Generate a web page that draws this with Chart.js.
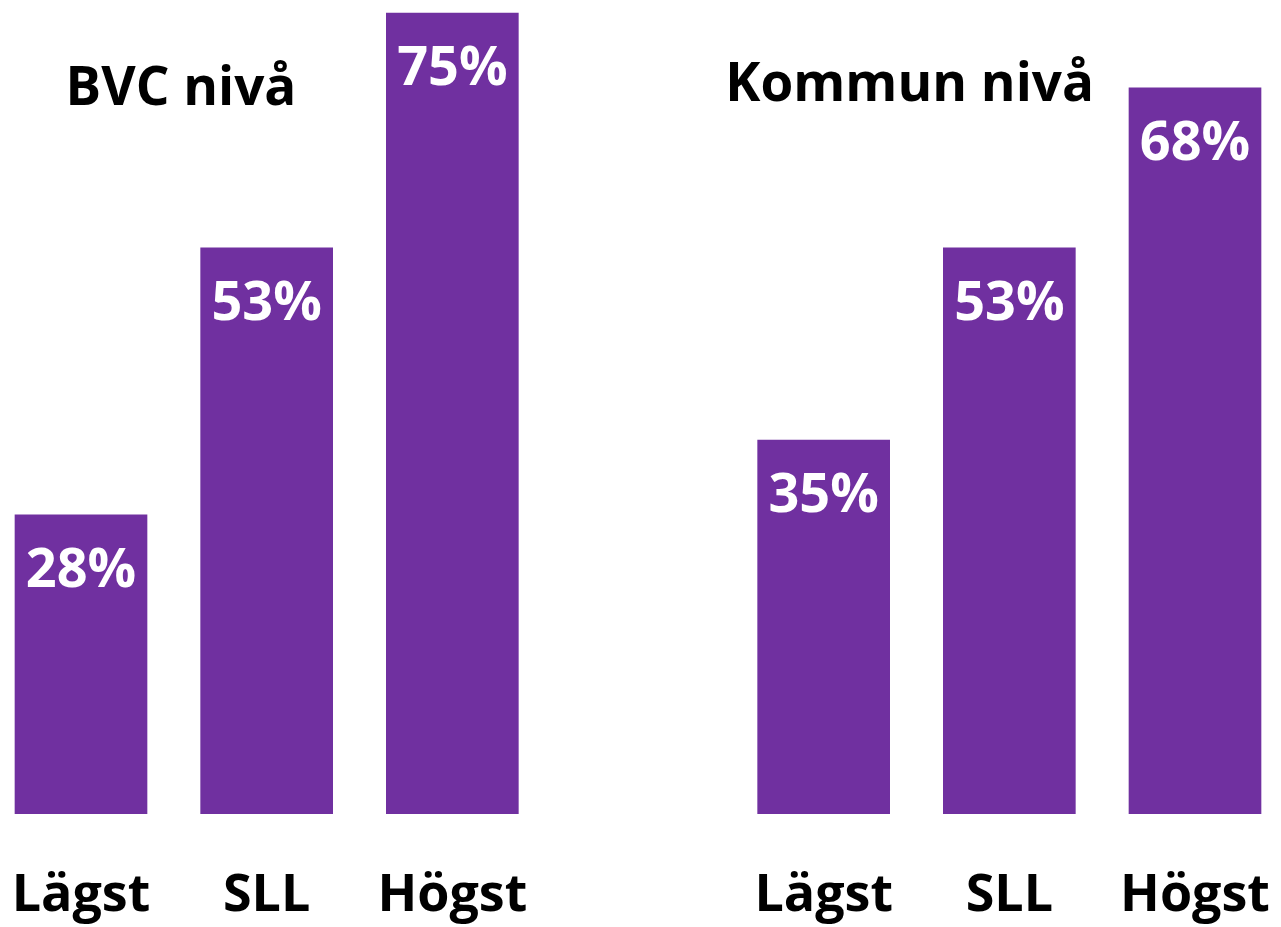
<!DOCTYPE html>
<html lang="sv">
<head>
    <meta charset="UTF-8">
    <script src="https://cdn.jsdelivr.net/npm/chart.js@4.4.1/dist/chart.umd.min.js"></script>
    <title>BVC och Kommun nivå</title>
    <style>
        body { margin: 0; background: #fff; }
    </style>
</head>
<body>
    <canvas id="chart" width="1281" height="927"></canvas>

    <script>
        // empty slot in the middle separates the two groups
        const categories = ['Lägst', 'SLL', 'Högst', '', 'Lägst', 'SLL', 'Högst'];
        const values = [28, 53, 75, null, 35, 53, 68];
        const groupTitles = ['BVC nivå', 'Kommun nivå'];

        const FONT = '"Open Sans", sans-serif';

        const labelPlugin = {
            id: 'labels',
            afterDatasetsDraw(chart) {
                const ctx = chart.ctx;
                const meta = chart.getDatasetMeta(0);
                ctx.save();
                ctx.fillStyle = '#fff';
                ctx.font = 'bold 54px ' + FONT;
                ctx.textAlign = 'center';
                ctx.textBaseline = 'middle';
                meta.data.forEach((bar, i) => {
                    if (values[i] == null) return;
                    ctx.fillText(values[i] + '%', bar.x, bar.y + 57);
                });

                // group titles
                const x = chart.scales.x;
                ctx.fillStyle = '#000';
                ctx.font = 'bold 53px ' + FONT;
                ctx.fillText(groupTitles[0], x.getPixelForValue(0) + 100, 90);
                ctx.fillText(groupTitles[1], x.getPixelForValue(4) + 86, 86);
                ctx.restore();
            }
        };

        new Chart(document.getElementById('chart'), {
            type: 'bar',
            data: {
                labels: categories,
                datasets: [{
                    data: values,
                    backgroundColor: '#7030A0',
                    barThickness: 132,
                    clip: false
                }]
            },
            options: {
                responsive: false,
                animation: false,
                layout: { padding: { left: 81, right: 86, top: 13, bottom: 0 } },
                plugins: { legend: { display: false }, tooltip: { enabled: false } },
                scales: {
                    x: {
                        offset: false,
                        // invisible tick marks push the labels down
                        grid: { color: 'rgba(0,0,0,0)', drawOnChartArea: false, tickLength: 51 },
                        border: { display: false },
                        ticks: {
                            color: '#000',
                            padding: 0,
                            font: { family: FONT, size: 52, weight: 'bold', lineHeight: 1.2 },
                            maxRotation: 0,
                            autoSkip: false
                        }
                    },
                    y: {
                        display: false,
                        min: 0,
                        max: 75
                    }
                }
            },
            plugins: [labelPlugin]
        });
    </script>
</body>
</html>
